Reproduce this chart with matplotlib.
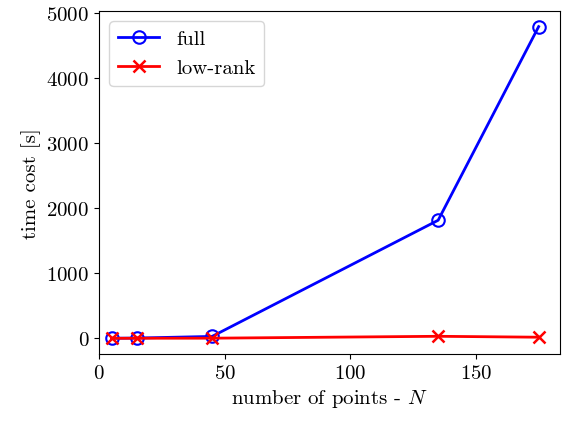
import matplotlib
matplotlib.use("Agg")
import matplotlib.pyplot as plt

N = [5, 15, 45, 135, 175]
full = [2, 5, 30, 1815, 4790]
lowrank = [1, 2, 3, 32, 18]

plt.rcParams['font.family'] = 'cmr10'
plt.rcParams['mathtext.fontset'] = 'cm'
plt.rcParams['axes.formatter.use_mathtext'] = True
plt.rcParams['font.size'] = 15

fig = plt.figure(figsize=(5.68, 4.27), dpi=100)
ax = fig.add_axes([99/568, 1-355/427, (560-99)/568, (355-12)/427])
ax.plot(N, full, 'b-o', mfc='none', lw=2, ms=9, mew=1.5, label='full')
ax.plot(N, lowrank, 'r-x', lw=2, ms=9, mew=1.8, label='low-rank')
ax.set_xlim(0, 183.5)
ax.set_ylim(-240, 5030)
ax.set_xticks([0, 50, 100, 150])
ax.set_yticks([0, 1000, 2000, 3000, 4000, 5000])
ax.set_xlabel(r'number of points - $N$')
ax.set_ylabel('time cost [s]')
ax.legend(loc='upper left', fontsize=15)
fig.savefig('out.png', dpi=100)
